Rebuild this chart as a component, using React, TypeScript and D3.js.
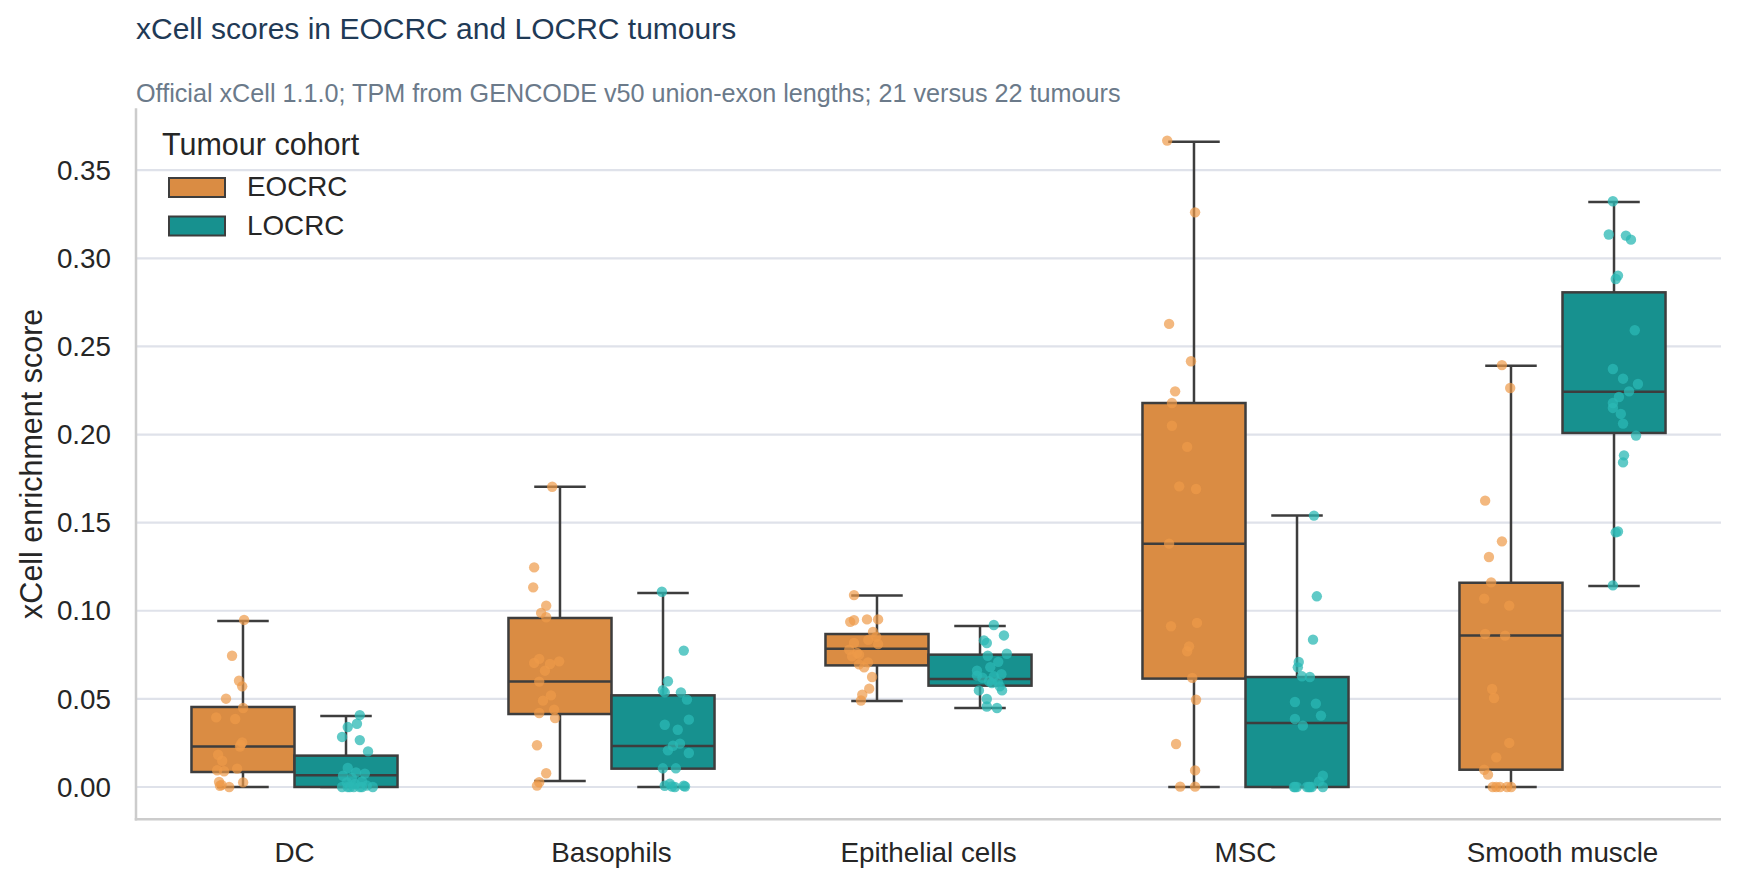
import React from "react";
import * as d3 from "d3";

// ---------- data ----------
const categories = ["DC", "Basophils", "Epithelial cells", "MSC", "Smooth muscle"];
const cohorts = ["EOCRC", "LOCRC"];
const yTicks = [0, 0.05, 0.1, 0.15, 0.2, 0.25, 0.3, 0.35];

// box statistics per category: [whiskerLow, q1, median, q3, whiskerHigh]
const eocrcBoxes: number[][] = [
  [0, 0.0085, 0.023, 0.0454, 0.0942],
  [0.0034, 0.0414, 0.0598, 0.0959, 0.1704],
  [0.0488, 0.069, 0.0785, 0.0868, 0.1086],
  [0, 0.0615, 0.1381, 0.2179, 0.3661],
  [0, 0.0098, 0.0859, 0.1159, 0.2391],
];
const locrcBoxes: number[][] = [
  [0, 0, 0.0066, 0.0178, 0.0403],
  [0, 0.0104, 0.0233, 0.052, 0.1101],
  [0.0448, 0.0575, 0.0613, 0.0751, 0.0914],
  [0, 0, 0.0363, 0.0624, 0.154],
  [0.1141, 0.2009, 0.2243, 0.2807, 0.332],
];

// individual tumour scores: [score, jitter (category units)]
const dcEOCRC: number[][] = [
  [0.0948, 0.041], [0.0745, 0.003], [0.0603, 0.025], [0.0571, 0.035], [0.0501, -0.016],
  [0.0448, 0.038], [0.0395, -0.047], [0.0386, 0.013], [0.0253, 0.035], [0.023, 0.028],
  [0.0183, -0.041], [0.0149, -0.028], [0.0095, -0.044], [0.0089, -0.022], [0.0104, 0.019],
  [0.0028, -0.038], [0.0007, -0.035], [0.0, -0.006], [0.0026, 0.038], [0.0012, -0.03], [0.024, 0.03],
];
const dcLOCRC: number[][] = [
  [0.0408, 0.006], [0.0359, -0.003], [0.034, -0.032], [0.0284, -0.05], [0.0266, 0.006],
  [0.0202, 0.032], [0.0108, -0.032], [0.0083, -0.006], [0.0076, 0.022], [0.0064, -0.047],
  [0.0051, -0.019], [0.0032, 0.013], [0.0026, -0.035], [0.0017, -0.009], [0.0008, 0.028],
  [0, -0.05], [0, -0.032], [0, -0.013], [0, 0.006], [0, 0.013], [0, 0.047], [0, -0.025],
];
const basoEOCRC: number[][] = [
  [0.1704, 0.013], [0.1246, -0.044], [0.1133, -0.047], [0.1029, -0.006], [0.0988, -0.022],
  [0.0963, -0.006], [0.0727, -0.028], [0.0704, -0.044], [0.0698, 0.006], [0.0713, 0.035],
  [0.0598, -0.028], [0.052, 0.009], [0.049, -0.016], [0.0439, 0.019], [0.042, -0.028],
  [0.0391, 0.022], [0.0237, -0.035], [0.0078, -0.006], [0.0027, -0.028], [0.0008, -0.035], [0.066, -0.01],
];
const basoLOCRC: number[][] = [
  [0.1108, -0.041], [0.0774, 0.028], [0.06, -0.022], [0.0549, -0.038], [0.0537, -0.032],
  [0.0537, 0.019], [0.0496, 0.038], [0.0382, 0.044], [0.0353, -0.032], [0.0325, 0.009],
  [0.0246, 0.016], [0.0234, -0.006], [0.0208, -0.022], [0.0193, 0.044], [0.0106, -0.038],
  [0.0106, 0.003], [0.0007, -0.032], [0.0018, -0.016], [0.0003, -0.009], [0.0007, 0.028],
  [0.0003, 0.032], [0.0, 0.0],
];
const epiEOCRC: number[][] = [
  [0.1089, -0.035], [0.0937, -0.047], [0.0946, -0.035], [0.0951, 0.006], [0.0951, 0.041],
  [0.088, 0.025], [0.0852, 0.035], [0.0817, -0.035], [0.0811, 0.041], [0.0779, -0.05],
  [0.0751, -0.019], [0.0741, -0.041], [0.0707, 0.009], [0.0696, -0.019], [0.0679, -0.003],
  [0.0624, 0.022], [0.0558, 0.013], [0.0524, -0.009], [0.0491, -0.013], [0.076, -0.025], [0.0835, 0.01],
];
const epiLOCRC: number[][] = [
  [0.0919, 0.006], [0.086, 0.038], [0.0832, -0.025], [0.0817, -0.016], [0.0745, -0.013],
  [0.0756, 0.047], [0.066, -0.047], [0.0632, -0.047], [0.0628, 0.006], [0.06, -0.009],
  [0.0594, 0.019], [0.0571, 0.025], [0.0548, 0.032], [0.0548, -0.041], [0.0499, -0.016],
  [0.0457, -0.016], [0.0448, 0.016], [0.064, 0.03], [0.068, -0.005], [0.059, 0.0],
  [0.062, -0.03], [0.071, 0.02],
];
const mscEOCRC: number[][] = [
  [0.3668, -0.047], [0.3261, 0.041], [0.2628, -0.041], [0.2416, 0.028], [0.2245, -0.022],
  [0.2179, -0.032], [0.205, -0.032], [0.193, 0.016], [0.1706, -0.009], [0.1691, 0.044],
  [0.1381, -0.041], [0.0912, -0.035], [0.0931, 0.047], [0.0798, 0.022], [0.077, 0.016],
  [0.0619, 0.032], [0.0495, 0.044], [0.0244, -0.019], [0.0094, 0.041], [0.0002, -0.006], [0.0002, 0.041],
];
const mscLOCRC: number[][] = [
  [0.154, 0.016], [0.1082, 0.025], [0.0836, 0.013], [0.0709, -0.032], [0.0679, -0.035],
  [0.0628, -0.022], [0.0624, 0.003], [0.0482, -0.044], [0.0473, 0.022], [0.0405, 0.038],
  [0.0386, -0.044], [0.0348, -0.019], [0.0064, 0.044], [0.0032, 0.032], [0, -0.047],
  [0, -0.038], [0, -0.006], [0, 0.003], [0, 0.044], [0, -0.044], [0, 0.009], [0, 0.0],
];
const smoothEOCRC: number[][] = [
  [0.2394, 0.009], [0.2264, 0.035], [0.1625, -0.044], [0.1394, 0.009], [0.1305, -0.032],
  [0.1161, -0.025], [0.1069, -0.047], [0.1029, 0.032], [0.0868, -0.044], [0.0859, 0.019],
  [0.0556, -0.022], [0.0505, -0.016], [0.025, 0.032], [0.0168, -0.009], [0.0098, -0.047],
  [0.007, -0.035], [0, -0.009], [0, 0.003], [0, 0.025], [0, 0.038], [0, -0.02],
];
const smoothLOCRC: number[][] = [
  [0.3324, -0.041], [0.3135, -0.054], [0.3129, 0.0], [0.3106, 0.016], [0.2902, -0.025],
  [0.2883, -0.032], [0.2592, 0.028], [0.2372, -0.041], [0.2317, -0.009], [0.2287, 0.038],
  [0.2213, -0.022], [0.2179, -0.041], [0.2151, -0.041], [0.2117, -0.016], [0.2062, -0.009],
  [0.1994, 0.032], [0.1882, -0.006], [0.1842, -0.009], [0.1445, -0.032], [0.1144, -0.041],
  [0.145, -0.025], [0.2245, 0.01],
];

const eocrcPoints = [dcEOCRC, basoEOCRC, epiEOCRC, mscEOCRC, smoothEOCRC];
const locrcPoints = [dcLOCRC, basoLOCRC, epiLOCRC, mscLOCRC, smoothLOCRC];

// ---------- style ----------
const W = 1738;
const H = 887;
const FONT = "'Liberation Sans', Arial, 'DejaVu Sans', sans-serif";
const boxFill = ["#DA8C43", "#17918F"];
const dotFill = ["#EE9A48", "#2BB8B4"];
const dotOpacity = [0.7, 0.75];
const lineColor = "#3d3d3d";
const gridColor = "#dfe2ea";
const spineColor = "#cccccc";
const textColor = "#262626";

export default function App() {
  const plot = { left: 136, right: 1721, top: 108.3, bottom: 819.3 };

  const allVals = [
    ...eocrcPoints.flat().map((p) => p[0]),
    ...locrcPoints.flat().map((p) => p[0]),
    ...eocrcBoxes.flat(),
    ...locrcBoxes.flat(),
  ];
  const vMax = d3.max(allVals) as number;
  const vMin = Math.min(0, d3.min(allVals) as number);
  const span = vMax - vMin;

  const x = d3.scaleBand<string>().domain(categories).range([plot.left, plot.right]).padding(0);
  const y = d3
    .scaleLinear()
    .domain([vMin - 0.05 * span, vMax + 0.05 * span])
    .range([plot.bottom, plot.top]);

  const bw = x.bandwidth();
  const boxW = 0.325 * bw;
  const boxOffsets = [-boxW / 2, boxW / 2];
  const stripOffsets = [-0.2 * bw, 0.2 * bw];
  const boxSets = [eocrcBoxes, locrcBoxes];
  const pointSets = [eocrcPoints, locrcPoints];

  return (
    <svg
      width={W}
      height={H}
      viewBox={`0 0 ${W} ${H}`}
      style={{ position: "absolute", left: 0, top: 0, background: "#fff", fontFamily: FONT }}
    >
      <rect x={0} y={0} width={W} height={H} fill="#fff" />
      {/* titles */}
      <text x={136} y={39} fontSize={30} fill="#1f3a56">
        xCell scores in EOCRC and LOCRC tumours
      </text>
      <text x={136} y={101.5} fontSize={25.2} fill="#6b7a8a">
        Official xCell 1.1.0; TPM from GENCODE v50 union-exon lengths; 21 versus 22 tumours
      </text>

      {/* grid */}
      {yTicks.map((t) => (
        <line key={t} x1={plot.left} x2={plot.right} y1={y(t)} y2={y(t)} stroke={gridColor} strokeWidth={2.2} />
      ))}

      {/* boxes */}
      {categories.map((c, ci) =>
        cohorts.map((h, hi) => {
          const [lo, q1, med, q3, hiW] = boxSets[hi][ci];
          const cx = (x(c) as number) + bw / 2 + boxOffsets[hi];
          const capHalf = boxW / 4;
          return (
            <g key={c + h} stroke={lineColor} strokeWidth={2.5}>
              <line x1={cx} x2={cx} y1={y(q3)} y2={y(hiW)} />
              <line x1={cx} x2={cx} y1={y(q1)} y2={y(lo)} />
              <line x1={cx - capHalf} x2={cx + capHalf} y1={y(hiW)} y2={y(hiW)} />
              <line x1={cx - capHalf} x2={cx + capHalf} y1={y(lo)} y2={y(lo)} />
              <rect x={cx - boxW / 2} y={y(q3)} width={boxW} height={y(q1) - y(q3)} fill={boxFill[hi]} />
              <line x1={cx - boxW / 2} x2={cx + boxW / 2} y1={y(med)} y2={y(med)} />
            </g>
          );
        })
      )}

      {/* points */}
      {categories.map((c, ci) =>
        cohorts.map((h, hi) =>
          pointSets[hi][ci].map((p, pi) => (
            <circle
              key={c + h + pi}
              cx={(x(c) as number) + bw / 2 + stripOffsets[hi] + p[1] * bw}
              cy={y(p[0])}
              r={5.2}
              fill={dotFill[hi]}
              fillOpacity={dotOpacity[hi]}
            />
          ))
        )
      )}

      {/* spines */}
      <line x1={plot.left} x2={plot.left} y1={plot.top} y2={plot.bottom + 1.25} stroke={spineColor} strokeWidth={2.5} />
      <line x1={plot.left - 1.25} x2={plot.right} y1={plot.bottom} y2={plot.bottom} stroke={spineColor} strokeWidth={2.5} />

      {/* y ticks */}
      {yTicks.map((t) => (
        <text key={t} x={111} y={y(t)} dy="0.35em" textAnchor="end" fontSize={27.8} fill={textColor}>
          {d3.format(".2f")(t)}
        </text>
      ))}
      {/* x ticks */}
      {categories.map((c) => (
        <text key={c} x={(x(c) as number) + bw / 2} y={862} textAnchor="middle" fontSize={27.8} fill={textColor}>
          {c}
        </text>
      ))}
      {/* y label */}
      <text
        transform={`translate(42, ${(plot.top + plot.bottom) / 2}) rotate(-90)`}
        textAnchor="middle"
        fontSize={30.5}
        fill={textColor}
      >
        xCell enrichment score
      </text>

      {/* legend */}
      <text x={162} y={155} fontSize={30.5} fill={textColor}>
        Tumour cohort
      </text>
      {cohorts.map((h, hi) => (
        <g key={h}>
          <rect x={169} y={178 + hi * 38.5} width={56} height={19} fill={boxFill[hi]} stroke={lineColor} strokeWidth={2} />
          <text x={247} y={195.7 + hi * 39.3} fontSize={27.8} fill={textColor}>
            {h}
          </text>
        </g>
      ))}
    </svg>
  );
}
